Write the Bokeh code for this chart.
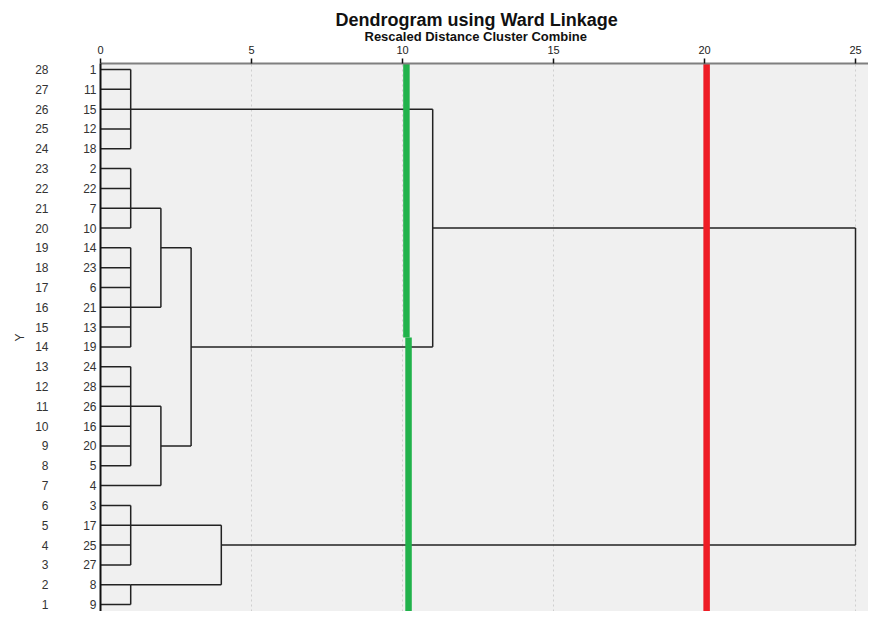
from bokeh.plotting import figure
from bokeh.models import LinearAxis, FixedTicker, Title, Range1d
from bokeh.embed import file_html
from bokeh.resources import INLINE

# ---------------- data ----------------
rows = list(range(28, 0, -1))  # case row numbers, top to bottom
leaf_labels = ["1", "11", "15", "12", "18", "2", "22", "7", "10", "14", "23", "6",
               "21", "13", "19", "24", "28", "26", "16", "20", "5", "4", "3", "17",
               "25", "27", "8", "9"]
x_ticks = [0, 5, 10, 15, 20, 25]

merge_names = ["A", "B1", "B2", "B", "C1", "C", "BC", "ABC", "D1", "D2", "D", "ALL"]
merge_children = [
    ["1", "11", "15", "12", "18"],
    ["2", "22", "7", "10"],
    ["14", "23", "6", "21", "13", "19"],
    ["B1", "B2"],
    ["24", "28", "26", "16", "20", "5"],
    ["C1", "4"],
    ["B", "C"],
    ["A", "BC"],
    ["3", "17", "25", "27"],
    ["8", "9"],
    ["D1", "D2"],
    ["ABC", "D"],
]
merge_dist = [1, 1, 1, 2, 1, 2, 3, 11, 1, 1, 4, 25]
merge_row = [26, 21, 16, 19, 11, 9, 14, 20, 5, 2, 4, None]

green_x = [10.13, 10.2]
green_split = 14.47
red_x = 20.07

FONT = "Liberation Sans"

# ---------------- build segments ----------------
pos = {lab: (0.0, r) for lab, r in zip(leaf_labels, rows)}
hx0, hx1, hy = [], [], []
vx, vy0, vy1 = [], [], []
for name, ch, d, r in zip(merge_names, merge_children, merge_dist, merge_row):
    ys = []
    for c in ch:
        cx, cy = pos[c]
        hx0.append(cx); hx1.append(d); hy.append(cy)
        ys.append(cy)
    vx.append(d); vy0.append(min(ys)); vy1.append(max(ys))
    if r is not None:
        pos[name] = (d, r)

y_lo, y_hi = 0.647, 28.303

p = figure(width=868, height=611,
           x_range=Range1d(0, 25.43), y_range=Range1d(y_lo, y_hi),
           x_axis_location="above",
           output_backend="svg", toolbar_location=None,
           min_border_left=100, min_border_top=63,
           min_border_right=0, min_border_bottom=0,
           background_fill_color="#f0f0f0", border_fill_color="white",
           outline_line_color=None)

# x axis (top)
xa = p.xaxis[0]
xa.ticker = FixedTicker(ticks=x_ticks)
xa.axis_line_color = "#7f7f7f"
xa.axis_line_width = 2
xa.major_tick_line_color = "#111111"
xa.major_tick_line_width = 1.5
xa.major_tick_out = 5
xa.major_tick_in = 0
xa.minor_tick_line_color = None
xa.major_label_standoff = 5
xa.major_label_text_font = FONT
xa.major_label_text_font_size = "11px"
xa.major_label_text_color = "#222222"

# grid
p.xgrid.ticker = FixedTicker(ticks=x_ticks)
p.xgrid.grid_line_color = "#cfcfcf"
p.xgrid.grid_line_dash = "2 3"
p.xgrid.grid_line_width = 1
p.ygrid.grid_line_color = None

# inner y axis: leaf labels
ya = p.yaxis[0]
ya.ticker = FixedTicker(ticks=rows)
ya.major_label_overrides = {r: lab for r, lab in zip(rows, leaf_labels)}
ya.axis_line_color = "#111111"
ya.axis_line_width = 2
ya.major_tick_line_color = None
ya.major_tick_out = 0
ya.major_tick_in = 0
ya.minor_tick_line_color = None
ya.major_label_standoff = 4
ya.major_label_text_font = FONT
ya.major_label_text_font_size = "12px"
ya.major_label_text_color = "#333333"

# outer y axis: row numbers
ya2 = LinearAxis(ticker=FixedTicker(ticks=rows))
ya2.axis_line_color = None
ya2.major_tick_line_color = None
ya2.major_tick_out = 0
ya2.major_tick_in = 0
ya2.minor_tick_line_color = None
ya2.major_label_standoff = 32
ya2.major_label_text_font = FONT
ya2.major_label_text_font_size = "12px"
ya2.major_label_text_color = "#333333"
ya2.axis_label = "Y"
ya2.axis_label_standoff = 5
ya2.axis_label_text_font = FONT
ya2.axis_label_text_font_size = "12px"
ya2.axis_label_text_font_style = "normal"
ya2.axis_label_text_color = "#333333"
p.add_layout(ya2, "left")

# titles
p.add_layout(Title(text="Rescaled Distance Cluster Combine", align="left", offset=264,
                   text_font=FONT, text_font_size="13px", text_font_style="bold",
                   text_color="#111111", standoff=-2), "above")
p.add_layout(Title(text="Dendrogram using Ward Linkage", align="left", offset=235,
                   text_font=FONT, text_font_size="18px", text_font_style="bold",
                   text_color="#111111", standoff=-4), "above")

# dendrogram
p.segment(x0=hx0, y0=hy, x1=hx1, y1=hy, line_color="#222222", line_width=1.5)
p.segment(x0=vx, y0=vy0, x1=vx, y1=vy1, line_color="#222222", line_width=1.5)

# cut lines
p.segment(x0=[green_x[0], green_x[1]], y0=[y_hi, green_split],
          x1=[green_x[0], green_x[1]], y1=[green_split, y_lo],
          line_color="#21b24b", line_width=6.5)
p.segment(x0=[red_x], y0=[y_hi], x1=[red_x], y1=[y_lo],
          line_color="#ee1c25", line_width=6.5)

open("out.html", "w").write(file_html(p, INLINE))
